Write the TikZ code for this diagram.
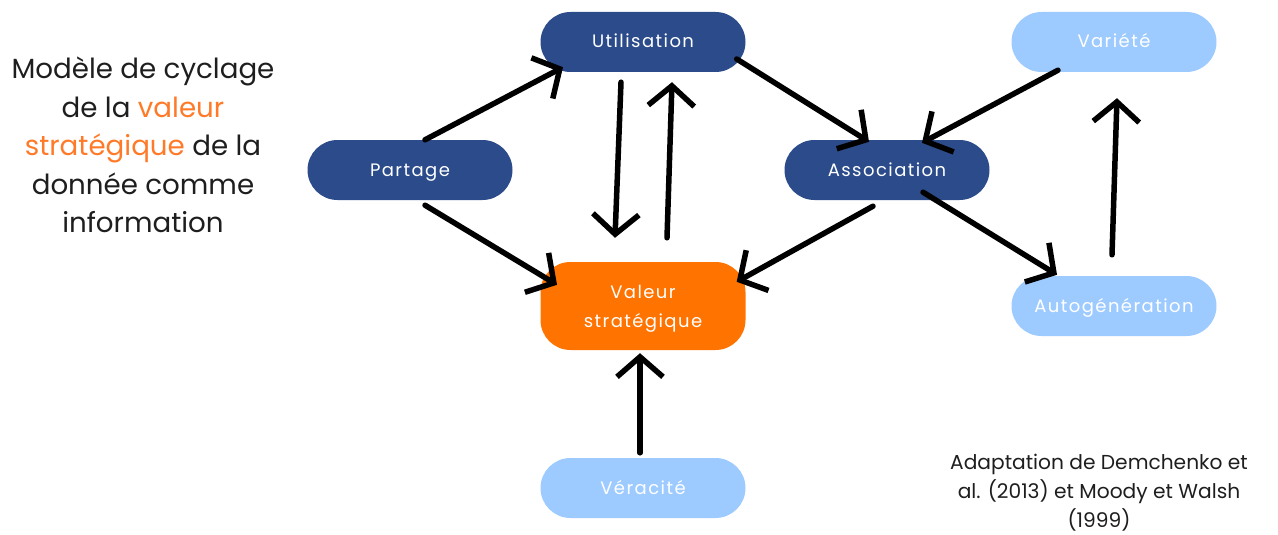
\documentclass[tikz,border=0pt]{standalone}
\usepackage{fontspec}
\setmainfont{Poppins}
\newfontfamily\boxfont[LetterSpace=8]{Poppins}
\usepackage{tikz}
\usetikzlibrary{arrows.meta}

\definecolor{darkblue}{RGB}{43,75,138}
\definecolor{lightblue}{RGB}{158,203,255}
\definecolor{valorange}{RGB}{255,115,0}
\definecolor{titleorange}{RGB}{255,122,40}
\definecolor{txtgray}{RGB}{30,30,30}

\begin{document}
\begin{tikzpicture}[x=1pt,y=-1pt,
  box/.style={rectangle,rounded corners=30pt,minimum width=205pt,minimum height=60pt,
    inner sep=0pt,text=white,align=center,font=\boxfont\fontsize{18}{29}\selectfont},
  darkbox/.style={box,fill=darkblue,text height=14pt,text depth=2pt},
  lightbox/.style={box,fill=lightblue,text height=14pt,text depth=2pt},
  flow/.style={draw=black,line width=5.5pt,line cap=round,
    -{Straight Barb[length=20pt,width=46pt,line width=5.5pt]}}]
\useasboundingbox (0,0) rectangle (1278,535);

\node[txtgray,align=center,font=\fontsize{27.7}{38.5}\selectfont] (title) at (143,145)
  {Modèle de cyclage\\de la \textcolor{titleorange}{valeur}\\\textcolor{titleorange}{stratégique} de la\\donnée comme\\information};

\node[darkbox] (util) at (643,42) {Utilisation};
\node[darkbox] (part) at (410,170) {Partage};
\node[darkbox] (assoc) at (887,170) {Association};
\node[box,fill=valorange,minimum height=88pt,text height=45pt,text depth=1.5pt] (val) at (643,306) {Valeur\\stratégique};
\node[lightbox] (var) at (1114,42) {Variété};
\node[lightbox] (auto) at (1114,306) {Autogénération};
\node[lightbox] (vera) at (643,488) {Véracité};

\node[txtgray,align=center,font=\fontsize{20.2}{29}\selectfont] (source) at (1099,493)
  {Adaptation de Demchenko et\\al. (2013) et Moody et Walsh\\(1999)};

\draw[flow] ([xshift=15pt]part.north) -- ([xshift=-80pt,yshift=5pt]util.south);
\draw[flow] ([xshift=15pt,yshift=-5pt]part.south) -- ([xshift=-86pt,yshift=-23pt]val.north);
\draw[flow] ([xshift=-22pt,yshift=-10pt]util.south) -- ([xshift=-28pt,yshift=24pt]val.north);
\draw[flow] ([xshift=24pt,yshift=24pt]val.north) -- ([xshift=29pt,yshift=-10pt]util.south);
\draw[flow] ([xshift=-9pt,yshift=-17pt]util.east) -- ([xshift=-18pt,yshift=-2pt]assoc.north);
\draw[flow] ([xshift=-14pt,yshift=-6pt]assoc.south) -- ([xshift=-9pt,yshift=-20pt]val.north east);
\draw[flow] ([xshift=-56pt,yshift=2pt]var.south) -- ([xshift=35pt,yshift=-3pt]assoc.north);
\draw[flow] ([xshift=36pt,yshift=8pt]assoc.south) -- ([xshift=-57pt,yshift=1pt]auto.north);
\draw[flow] ([xshift=-2pt,yshift=21pt]auto.north) -- ([xshift=3pt,yshift=-26pt]var.south);
\draw[flow] ([xshift=-3pt,yshift=5pt]vera.north) -- ([xshift=-3pt,yshift=-3pt]val.south);
\end{tikzpicture}
\end{document}
